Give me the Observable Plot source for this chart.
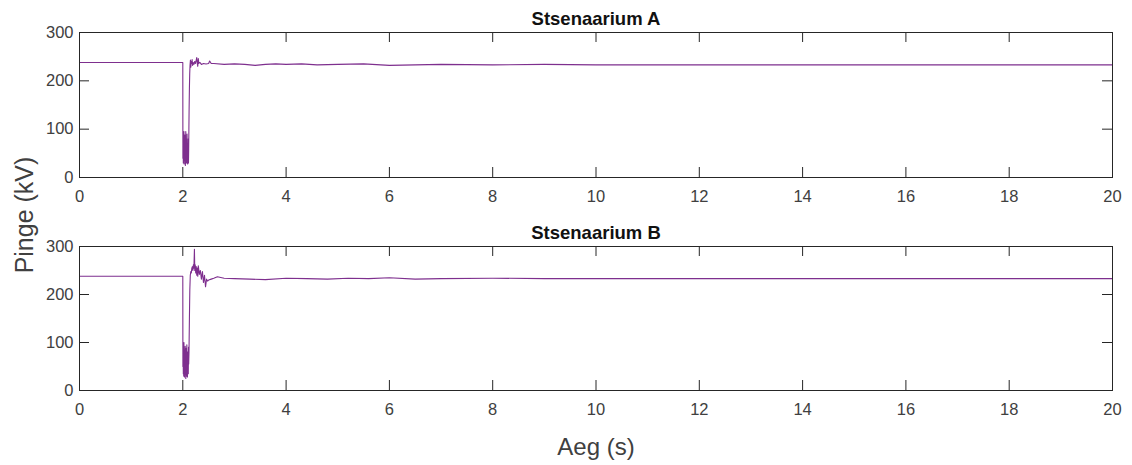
<!DOCTYPE html>
<html><head><meta charset="utf-8">
<script src="https://cdn.jsdelivr.net/npm/d3@7"></script>
<script src="https://cdn.jsdelivr.net/npm/@observablehq/plot@0.6"></script>
<style>
body{margin:0;background:#fff;}
#wrap{position:relative;width:1132px;height:465px;font-family:"Liberation Sans",Arial,sans-serif;overflow:hidden;}
.panel{position:absolute;left:0;}
#ylab{position:absolute;left:24px;top:215px;transform:translate(-50%,-50%) rotate(-90deg);font-size:25px;color:#404040;white-space:nowrap;}
#xlab{position:absolute;left:596px;top:447px;transform:translate(-50%,-50%);font-size:24px;color:#404040;white-space:nowrap;}
</style></head><body>
<div id="wrap">
  <div id="pA" class="panel" style="top:0px"></div>
  <div id="pB" class="panel" style="top:215px"></div>
  <div id="ylab">Pinge (kV)</div>
  <div id="xlab">Aeg (s)</div>
</div>
<script>
const titles = ["Stsenaarium A", "Stsenaarium B"];
const xLabel = "Aeg (s)";
const yLabel = "Pinge (kV)";
const xTicks = [0, 2, 4, 6, 8, 10, 12, 14, 16, 18, 20];
const yTicks = [0, 100, 200, 300];

// Scenario A
const timeA = [0, 1.999, 2.000, 2.002, 2.006, 2.010, 2.014, 2.018, 2.022, 2.026, 2.030, 2.034, 2.038, 2.042, 2.046, 2.050, 2.054, 2.058, 2.062, 2.066, 2.070, 2.074, 2.078, 2.082, 2.086, 2.090, 2.094, 2.098, 2.102, 2.106, 2.110, 2.114, 2.118, 2.122, 2.128, 2.134, 2.140, 2.148, 2.156, 2.164, 2.172, 2.180, 2.190, 2.200, 2.215, 2.230, 2.245, 2.260, 2.270, 2.280, 2.290, 2.300, 2.310, 2.330, 2.360, 2.400, 2.450, 2.500, 2.520, 2.550, 2.600, 2.800, 3.000, 3.200, 3.400, 3.600, 3.800, 4.000, 4.300, 4.600, 5.000, 5.500, 6.000, 6.500, 7.000, 8.000, 9.000, 10.00, 12.00, 14.00, 16.00, 18.00, 20.00];
const voltA = [238, 238, 238, 40, 90, 30, 85, 45, 95, 28, 70, 40, 88, 35, 75, 25, 60, 95, 30, 80, 40, 70, 30, 90, 35, 65, 28, 55, 40, 80, 30, 60, 100, 140, 185, 215, 232, 243, 228, 240, 236, 244, 232, 238, 234, 240, 236, 243, 248, 236, 230, 246, 236, 238, 234, 236, 235, 236, 241, 236, 236, 234, 235, 234, 232, 234, 235, 234, 235, 233, 234, 235, 232, 233, 234, 233, 234, 233, 233, 233, 233, 233, 233];

// Scenario B
const timeB = [0, 1.999, 2.000, 2.002, 2.006, 2.010, 2.014, 2.018, 2.022, 2.026, 2.030, 2.034, 2.038, 2.042, 2.046, 2.050, 2.054, 2.058, 2.062, 2.066, 2.070, 2.074, 2.078, 2.082, 2.086, 2.090, 2.094, 2.098, 2.102, 2.106, 2.110, 2.114, 2.120, 2.128, 2.136, 2.145, 2.155, 2.165, 2.175, 2.185, 2.195, 2.205, 2.215, 2.225, 2.232, 2.240, 2.250, 2.260, 2.270, 2.280, 2.290, 2.300, 2.320, 2.340, 2.360, 2.380, 2.400, 2.420, 2.440, 2.460, 2.480, 2.500, 2.550, 2.600, 2.670, 2.800, 3.000, 3.300, 3.600, 4.000, 4.400, 4.800, 5.200, 5.600, 6.000, 6.500, 7.000, 8.000, 9.000, 10.00, 12.00, 14.00, 16.00, 18.00, 20.00];
const voltB = [238, 238, 238, 50, 95, 35, 80, 30, 100, 45, 85, 28, 70, 40, 92, 33, 66, 25, 88, 45, 75, 30, 95, 38, 60, 28, 80, 45, 70, 35, 90, 55, 80, 150, 210, 240, 248, 245, 255, 258, 250, 262, 255, 294, 250, 262, 245, 258, 240, 255, 238, 260, 242, 250, 232, 248, 225, 240, 216, 232, 228, 230, 232, 234, 237, 234, 233, 232, 231, 234, 233, 232, 234, 233, 235, 232, 233, 234, 233, 233, 233, 233, 233, 233, 233];

const series = [
  {title: titles[0], time: timeA, volt: voltA, el: "pA", mt: 32, mb: 38},
  {title: titles[1], time: timeB, volt: voltB, el: "pB", mt: 31, mb: 40}
];

const W = 1132, H = 215, ML = 79, MR = 20, tick = 10;
const lineColor = "#7E2F8E", axisColor = "#262626";

for (const s of series) {
  const rows = s.time.map((t, i) => ({t, v: s.volt[i]}));
  const innerH = H - s.mt - s.mb, innerW = W - ML - MR;
  const chart = Plot.plot({
    width: W, height: H,
    marginLeft: ML, marginRight: MR, marginTop: s.mt, marginBottom: s.mb,
    style: {fontFamily: "Liberation Sans, Arial, sans-serif", fontSize: "16px", color: "#404040", background: "transparent", overflow: "visible"},
    x: {domain: [0, 20]},
    y: {domain: [0, 300]},
    marks: [
      Plot.line(rows, {x: "t", y: "v", stroke: lineColor, strokeWidth: 1.1}),
      Plot.tickX(xTicks, {x: d => d, stroke: axisColor, insetTop: innerH - tick}),
      Plot.tickX(xTicks, {x: d => d, stroke: axisColor, insetBottom: innerH - tick}),
      Plot.tickY(yTicks, {y: d => d, stroke: axisColor, insetRight: innerW - tick}),
      Plot.tickY(yTicks, {y: d => d, stroke: axisColor, insetLeft: innerW - tick}),
      Plot.frame({stroke: axisColor, strokeWidth: 1}),
      Plot.axisX(xTicks, {tickSize: 0, tickPadding: 13, fontSize: 16.5, label: null}),
      Plot.axisY(yTicks, {tickSize: 0, tickPadding: 6, fontSize: 16.5, label: null}),
      Plot.text([s.title], {frameAnchor: "top", dy: -20.5, fontWeight: "bold", fontSize: 18.5, fill: "#111"})
    ]
  });
  document.getElementById(s.el).appendChild(chart);
}
document.getElementById("xlab").textContent = xLabel;
document.getElementById("ylab").textContent = yLabel;
</script>
</body></html>
